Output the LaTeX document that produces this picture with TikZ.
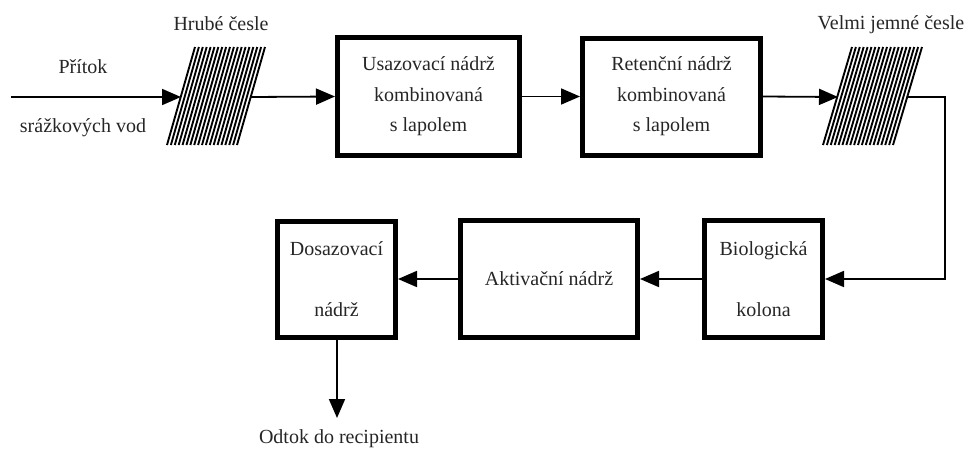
\documentclass[tikz,border=0pt]{standalone}
\usepackage{fontspec}
\setmainfont{Liberation Serif}
\usetikzlibrary{arrows.meta}
\begin{document}
\begin{tikzpicture}[x=1pt,y=-1pt,
  tank/.style={draw, line width=5pt, inner sep=0pt, align=center,
    font=\fontsize{20}{30.5}\selectfont, text=black!85},
  lbl/.style={font=\fontsize{20}{24}\selectfont, text=black!85, inner sep=0pt},
  flow/.style={line width=1.8pt, -{Triangle[length=19pt,width=16pt]}},
  hatchline/.style={line width=1.9pt}
]
\useasboundingbox (0,0) rectangle (968,450);

% screens (hatched parallelograms)
\foreach \i in {0,...,18}
  \draw[hatchline] ({167+\i*70/18},145) -- ({195+\i*70/18},47);
\foreach \i in {0,...,18}
  \draw[hatchline] ({823+\i*70/18},145) -- ({852+\i*70/18},47);

\coordinate (start) at (11,97);
\coordinate (hrubeIn) at (181,97);
\coordinate (hrubeOut) at (251,97);
\coordinate (velmiIn) at (838,97);
\coordinate (velmiOut) at (908,97);
\coordinate (turn) at (945,97);
\coordinate (outEnd) at (337,418);

% boxes
\node[tank, minimum width=182pt, minimum height=118pt] (usaz) at (428.5,96.5)
  {Usazovací nádrž\\kombinovaná\\s lapolem};
\node[tank, minimum width=178pt, minimum height=117pt] (ret) at (671.5,96.5)
  {Retenční nádrž\\kombinovaná\\s lapolem};
\node[tank, minimum width=118pt, minimum height=117pt] (bio) at (763.5,279)
  {Biologická\\[30.5pt]kolona};
\node[tank, minimum width=177pt, minimum height=117pt] (akt) at (549,279)
  {Aktivační nádrž};
\node[tank, minimum width=118pt, minimum height=116pt] (dos) at (336.5,279)
  {Dosazovací\\[30.5pt]nádrž};

% labels
\node[lbl] (pritok) at (83,67) {Přítok};
\node[lbl] (srazky) at (83,128) {srážkových vod};
\node[lbl] (hrube) at (221,24) {Hrubé česle};
\node[lbl] (velmi) at (891,25) {Velmi jemné česle};
\node[lbl] (odtok) at (339,439) {Odtok do recipientu};

% connectors
\draw[flow] (start) -- (hrubeIn);
\draw[flow] (hrubeOut) -- (usaz.west);
\draw[flow] (usaz.east) -- (ret.west);
\draw[flow] (ret.east) -- (velmiIn);
\draw[flow] (velmiOut) -- (turn) |- (bio.east);
\draw[flow] (bio.west) -- (akt.east);
\draw[flow] (akt.west) -- (dos.east);
\draw[flow] (dos.south -| outEnd) -- (outEnd);
\end{tikzpicture}
\end{document}
